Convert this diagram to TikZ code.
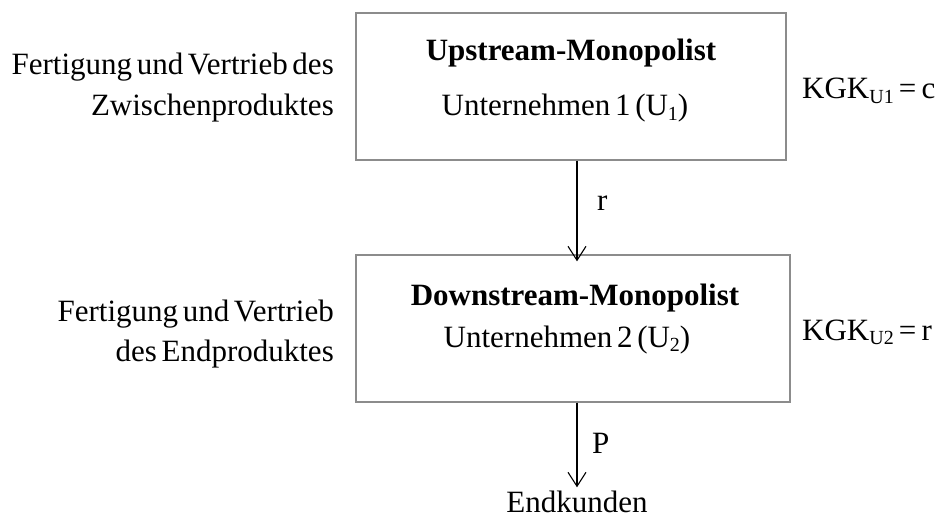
\documentclass[tikz,border=0pt]{standalone}
\usepackage{fontspec}
\setmainfont[WordSpace=0.6]{Liberation Serif}
\usetikzlibrary{arrows.meta}
% lowered, smaller index text
\newcommand{\idx}[1]{\raisebox{-0.3ex}{\fontsize{20}{20}\selectfont #1}}
\begin{document}
\begin{tikzpicture}[x=1pt,y=-1pt,
  every node/.style={font=\fontsize{31}{40}\selectfont, inner sep=0pt},
  firm/.style={draw=black!45, line width=1.4pt, minimum width=#1, minimum height=147pt},
  flow/.style={draw=black, line width=1.1pt, -{Straight Barb[length=14pt,width=18pt,line width=1.1pt]}},
  side/.style={anchor=base east},
  cost/.style={anchor=base west},
]
\useasboundingbox (0,0) rectangle (938,519);

% firms
\node[firm=430pt] (u1) at (571,86.5) {};
\node[firm=434pt] (u2) at (573,328.5) {};

\node[anchor=base] (u1title) at (571,61) {\textbf{Upstream-Monopolist}};
\node[anchor=base] (u1name) at (565,116) {Unternehmen 1 (U\idx{1})};
\node[anchor=base] (u2title) at (575,305) {\textbf{Downstream-Monopolist}};
\node[anchor=base] (u2name) at (567,347) {Unternehmen 2 (U\idx{2})};

% activities on the left
\node[side] (a1) at (334,75) {Fertigung und Vertrieb des};
\node[side] (a1b) at (334,115) {Zwischenproduktes};
\node[side] (a2) at (334,321) {Fertigung und Vertrieb};
\node[side] (a2b) at (334,361) {des Endproduktes};

% marginal costs on the right
\node[cost] (k1) at (802,99) {KGK\idx{U1}\,=\,c};
\node[cost] (k2) at (802,340) {KGK\idx{U2}\,=\,r};

% customers
\node[anchor=base] (end) at (577,512) {Endkunden};

% flows
\draw[flow] (u1.south -| end) -- ([yshift=-7pt]u2.north -| end);
\draw[flow] (u2.south -| end) -- ([yshift=3pt]end.north);

\node[anchor=base west] (r) at (597,210) {r};
\node[anchor=base west] (p) at (592,453) {P};
\end{tikzpicture}
\end{document}
